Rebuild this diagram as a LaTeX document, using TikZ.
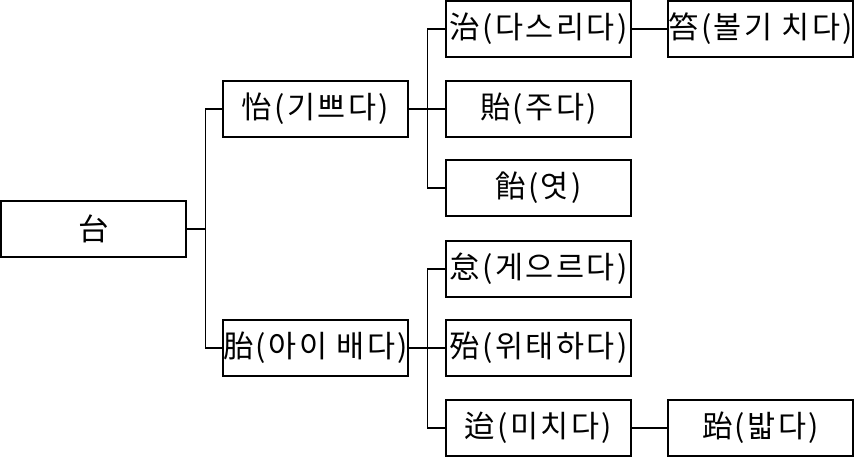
\documentclass[tikz,border=0pt]{standalone}
\usepackage{fontspec}
\newfontfamily\krfont[LetterSpace=8]{Noto Sans CJK KR}
\tikzset{
    hanja/.style={draw, line width=1.6pt, minimum width=185pt, minimum height=56pt, inner sep=0pt, font=\krfont\fontsize{30.5}{32}\selectfont},
    branch/.style={line width=1.3pt}
}
\begin{document}
\begin{tikzpicture}[x=1pt,y=-1pt]
\useasboundingbox (0,0) rectangle (854,458);
\foreach \x/\y/\p/\labeltext in {93.5/229/root/{台}, 315.5/109/gippeuda/{怡(기쁘다)}, 315.5/348/baeda/{胎(아이 배다)},
    538.5/29/dasrida/{治(다스리다)}, 538.5/109/juda/{貽(주다)}, 538.5/188/yeot/{飴(엿)},
    538.5/269/geeureuda/{怠(게으르다)}, 538.5/348/witaeda/{殆(위태하다)}, 538.5/428/michida/{迨(미치다)},
    760.5/29/bolgi/{笞(볼기 치다)}, 760.5/428/balda/{跆(밟다)}}{
    \node[hanja] (\p) at (\x,\y) {\labeltext};
}
% first level
\foreach \c in {gippeuda, baeda}{
    \draw[branch] (root.east) -- ++(19,0) |- (\c.west);
}
% second level
\foreach \c in {dasrida, juda, yeot}{
    \draw[branch] (gippeuda.east) -- ++(19,0) |- (\c.west);
}
\foreach \c in {geeureuda, witaeda, michida}{
    \draw[branch] (baeda.east) -- ++(19,0) |- (\c.west);
}
% third level
\draw[branch] (dasrida) -- (bolgi);
\draw[branch] (michida) -- (balda);
\end{tikzpicture}
\end{document}
